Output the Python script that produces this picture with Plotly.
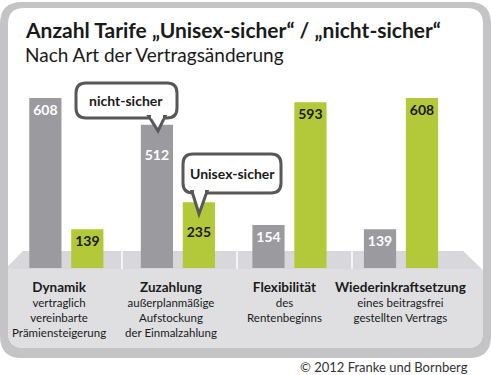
import plotly.graph_objects as go

# ---- data ----
categories = ["Dynamik", "Zuzahlung", "Flexibilität", "Wiederinkraftsetzung"]
sub_labels = [
    ["vertraglich", "vereinbarte", "Prämiensteigerung"],
    ["außerplanmäßige", "Aufstockung", "der Einmalzahlung"],
    ["des", "Rentenbeginns"],
    ["eines beitragsfrei", "gestellten Vertrags"],
]
nicht_sicher = [608, 512, 154, 139]
unisex_sicher = [139, 235, 593, 608]
# bars carrying a callout tail get their value label pushed down one line
callout_gray = [False, True, False, False]
callout_green = [False, True, False, False]

W, H = 491, 375
FONT = "Lato"
GRAY = "#9b9b9f"
GREEN = "#b3c93a"
LABEL_SHIFT = [-7, -7, -5, -1]


def px(x):
    return x / W


def py(y):
    return 1 - y / H


def rrect(x0, y0, x1, y1, r):
    pts = []
    pts.append(f"M {px(x0 + r)},{py(y0)}")
    pts.append(f"L {px(x1 - r)},{py(y0)}")
    pts.append(f"Q {px(x1)},{py(y0)} {px(x1)},{py(y0 + r)}")
    pts.append(f"L {px(x1)},{py(y1 - r)}")
    pts.append(f"Q {px(x1)},{py(y1)} {px(x1 - r)},{py(y1)}")
    pts.append(f"L {px(x0 + r)},{py(y1)}")
    pts.append(f"Q {px(x0)},{py(y1)} {px(x0)},{py(y1 - r)}")
    pts.append(f"L {px(x0)},{py(y0 + r)}")
    pts.append(f"Q {px(x0)},{py(y0)} {px(x0 + r)},{py(y0)}")
    pts.append("Z")
    return " ".join(pts)


def poly(points):
    return "M " + " L ".join(f"{px(x)},{py(y)}" for x, y in points) + " Z"


def labels(vals, flags):
    return [("\u00a0<br>" if f else "") + str(v) for v, f in zip(vals, flags)]


fig = go.Figure()
fig.add_trace(go.Bar(
    x=categories, y=nicht_sicher, name="nicht-sicher",
    marker=dict(color=GRAY, line=dict(width=0)),
    text=labels(nicht_sicher, callout_gray), textposition="inside",
    insidetextanchor="end", textangle=0,
    textfont=dict(family=FONT, size=14, color="white", weight="bold"),
    cliponaxis=False,
))
fig.add_trace(go.Bar(
    x=categories, y=unisex_sicher, name="Unisex-sicher",
    marker=dict(color=GREEN, line=dict(width=0)),
    text=labels(unisex_sicher, callout_green), textposition="inside",
    insidetextanchor="end", textangle=0,
    textfont=dict(family=FONT, size=14, color="#1a1a1a", weight="bold"),
    cliponaxis=False,
))

shapes = []
shapes.append(dict(type="path", path=rrect(0, 2, 491, 358, 22), xref="paper", yref="paper",
                   fillcolor="#c4c4c6", line=dict(width=0), layer="below"))
shapes.append(dict(type="path", path=rrect(8, 8, 483, 348, 16), xref="paper", yref="paper",
                   fillcolor="white", line=dict(width=0), layer="below"))
floor = (f"M {px(23)},{py(251)} L {px(463)},{py(251)} L {px(483)},{py(270)} "
         f"L {px(483)},{py(332)} Q {px(483)},{py(348)} {px(467)},{py(348)} "
         f"L {px(24)},{py(348)} Q {px(8)},{py(348)} {px(8)},{py(332)} "
         f"L {px(8)},{py(268)} Z")
shapes.append(dict(type="path", path=floor, xref="paper", yref="paper",
                   fillcolor="#dfdfe2", line=dict(width=0), layer="below"))
shapes.append(dict(type="path", path=poly([(23, 251), (463, 251), (481, 269), (8, 269), (8, 266)]),
                   xref="paper", yref="paper", fillcolor="#d8d8dc", line=dict(width=0), layer="below"))
for sx in [122, 237, 352]:
    shapes.append(dict(type="rect", x0=px(sx - 1), x1=px(sx + 1), y0=py(269), y1=py(251),
                       xref="paper", yref="paper", fillcolor="#f4f4f6", line=dict(width=0), layer="below"))

BCOL = "#58585a"
shapes.append(dict(type="path", path=rrect(76, 83, 177, 118, 10), xref="paper", yref="paper",
                   fillcolor="white", line=dict(color=BCOL, width=3), layer="above"))
shapes.append(dict(type="path", path=poly([(149, 116.5), (165, 116.5), (158, 131)]), xref="paper", yref="paper",
                   fillcolor="white", line=dict(color=BCOL, width=3), layer="above"))
shapes.append(dict(type="rect", x0=px(151), x1=px(163), y0=py(118.5), y1=py(114),
                   xref="paper", yref="paper", fillcolor="white", line=dict(width=0), layer="above"))

shapes.append(dict(type="path", path=rrect(183, 154, 281, 193, 10), xref="paper", yref="paper",
                   fillcolor="white", line=dict(color=BCOL, width=3), layer="above"))
shapes.append(dict(type="path", path=poly([(192, 191.5), (207, 191.5), (199, 214)]), xref="paper", yref="paper",
                   fillcolor="white", line=dict(color=BCOL, width=3), layer="above"))
shapes.append(dict(type="rect", x0=px(194), x1=px(205), y0=py(193.5), y1=py(189),
                   xref="paper", yref="paper", fillcolor="white", line=dict(width=0), layer="above"))

annotations = []
annotations.append(dict(text="<b>Anzahl Tarife „Unisex-sicher“ / „nicht-sicher“</b>",
                        x=px(24), y=py(29.5), xref="paper", yref="paper", xanchor="left", yanchor="middle",
                        showarrow=False, borderpad=0, font=dict(family=FONT, size=21, color="#1a1a1a")))
annotations.append(dict(text="Nach Art der Vertragsänderung",
                        x=px(24), y=py(54.5), xref="paper", yref="paper", xanchor="left", yanchor="middle",
                        showarrow=False, borderpad=0, font=dict(family=FONT, size=19, color="#1a1a1a")))
annotations.append(dict(text="<b>nicht-sicher</b>", x=px(126.5), y=py(100.5), xref="paper", yref="paper",
                        xanchor="center", yanchor="middle",
                        showarrow=False, font=dict(family=FONT, size=14, color="#1a1a1a")))
annotations.append(dict(text="<b>Unisex-sicher</b>", x=px(232), y=py(173.5), xref="paper", yref="paper",
                        xanchor="center", yanchor="middle",
                        showarrow=False, font=dict(family=FONT, size=14, color="#1a1a1a")))
for c, lines, sh in zip(categories, sub_labels, LABEL_SHIFT):
    txt = f"<b><span style='font-size:13.5px'>{c}</span></b><br>" + "<br>".join(lines)
    annotations.append(dict(text=txt, x=c, xshift=sh, y=py(277), xref="x", yref="paper",
                            yanchor="top", xanchor="center", showarrow=False, align="center",
                            font=dict(family=FONT, size=11.5, color="#1a1a1a")))
annotations.append(dict(text="© 2012 Franke und Bornberg", x=px(470), y=py(367), xref="paper", yref="paper",
                        xanchor="right", yanchor="middle", showarrow=False,
                        font=dict(family=FONT, size=13, color="#333333")))

y0 = (H - 268) / H
fig.update_layout(
    width=W, height=H, autosize=False,
    margin=dict(l=0, r=0, t=0, b=0),
    paper_bgcolor="white", plot_bgcolor="rgba(0,0,0,0)",
    showlegend=False,
    barmode="group", bargap=0.2476, bargroupgap=0.2326,
    xaxis=dict(domain=[10.35 / W, 467.5 / W], showticklabels=False, showgrid=False,
               zeroline=False, showline=False, fixedrange=True),
    yaxis=dict(domain=[y0, y0 + 195.7 / H], range=[0, 700], showticklabels=False,
               showgrid=False, zeroline=False, showline=False, fixedrange=True),
    shapes=shapes, annotations=annotations,
    uniformtext=dict(mode="show", minsize=10),
)
fig.write_html("out.html", config={"displayModeBar": False},
               post_script="document.body.style.margin='0';document.body.style.overflow='hidden';")
